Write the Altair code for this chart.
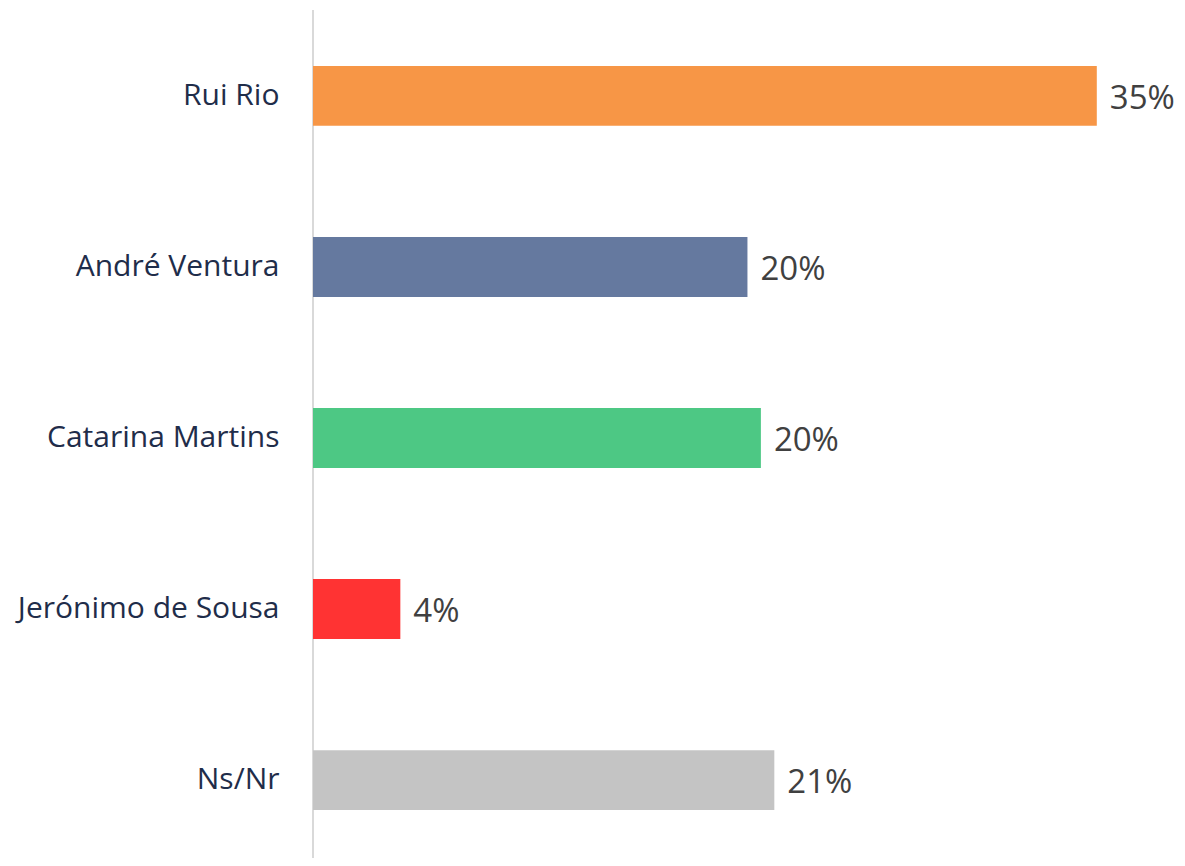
import altair as alt
import pandas as pd

categories = ["Rui Rio", "André Ventura", "Catarina Martins", "Jerónimo de Sousa", "Ns/Nr"]
values = [35.0, 19.4, 20.0, 3.9, 20.6]
labels = ["35%", "20%", "20%", "4%", "21%"]
colors = ["#F79646", "#65799F", "#4DC884", "#FF3333", "#C4C4C4"]

df = pd.DataFrame({"cat": categories, "val": values, "lab": labels, "col": colors})

W = 795
H = 840

y_enc = alt.Y("cat:N", sort=categories,
              scale=alt.Scale(paddingInner=0.6496, paddingOuter=0.28),
              axis=alt.Axis(title=None, domain=False, ticks=False, grid=False,
                            labelFont="Open Sans", labelFontSize=30, labelColor="#1F2D4A",
                            labelPadding=34, labelLimit=400))
x_enc = alt.X("val:Q", scale=alt.Scale(domain=[0, 35.5], nice=False), axis=None)

bars = alt.Chart(df).mark_bar().encode(
    y=y_enc, x=x_enc, color=alt.Color("col:N", scale=None)
)
text = alt.Chart(df).mark_text(align="left", baseline="middle", dx=13, dy=3,
                               font="Open Sans", fontSize=33, color="#404040").encode(
    y=alt.Y("cat:N", sort=categories), x="val:Q", text="lab:N"
)
axis_line = alt.Chart(df).mark_rule(color="#D9D9D9", strokeWidth=2).encode(
    x=alt.value(0), y=alt.value(-8), y2=alt.value(H + 10)
)

chart = alt.layer(axis_line, bars, text).properties(
    width=W, height=H,
    padding={"left": 305, "top": 10, "right": 69, "bottom": 0},
    autosize=alt.AutoSizeParams(type="none"),
    background="white",
).configure_view(stroke=None)

chart.save("out.html", embed_options={"renderer": "svg", "actions": False})
